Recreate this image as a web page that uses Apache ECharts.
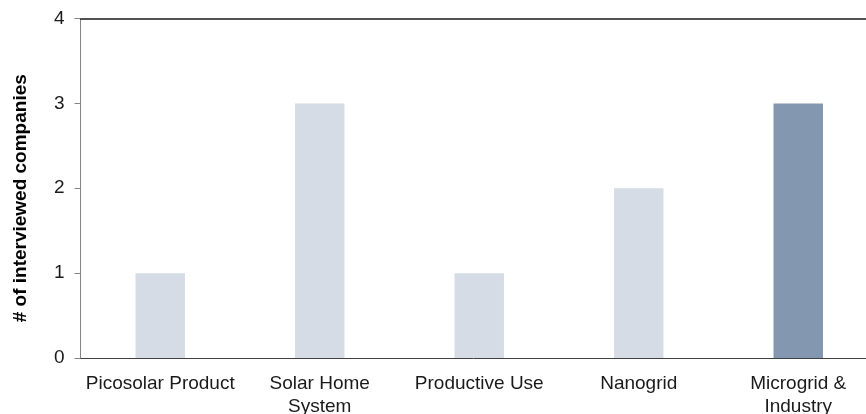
<!DOCTYPE html>
<html>
<head>
<meta charset="utf-8">
<script src="https://cdn.jsdelivr.net/npm/echarts@6/dist/echarts.min.js"></script>
<style>
  html, body { margin: 0; padding: 0; background: #fff; }
  #chart { width: 866px; height: 414px; }
</style>
</head>
<body>
<div id="chart"></div>
<script>
const categories = ['Picosolar Product', 'Solar Home\nSystem', 'Productive Use', 'Nanogrid', 'Microgrid &\nIndustry'];
const companies = [1, 3, 1, 2, 3];
const yTicks = [0, 1, 2, 3, 4];
const highlighted = 'Microgrid &\nIndustry';

const FONT = '"Liberation Sans", Arial, sans-serif';
const chart = echarts.init(document.getElementById('chart'));
chart.setOption({
  animation: false,
  backgroundColor: '#ffffff',
  grid: { left: 80.5, width: 797.5, top: 18.5, height: 339.5, containLabel: false, outerBoundsMode: 'none' },
  xAxis: [{
    type: 'category',
    data: categories,
    axisLine: { show: true, lineStyle: { color: '#404040', width: 1 } },
    axisTick: { show: false },
    axisLabel: { color: '#1a1a1a', fontFamily: FONT, fontSize: 19, lineHeight: 23, margin: 14, interval: 0 }
  }, {
    type: 'category',
    position: 'top',
    data: categories,
    axisLine: { show: true, lineStyle: { color: '#1a1a1a', width: 1.5 } },
    axisTick: { show: false },
    axisLabel: { show: false }
  }],
  yAxis: {
    type: 'value',
    min: yTicks[0],
    max: yTicks[yTicks.length - 1],
    interval: 1,
    name: '# of interviewed companies',
    nameLocation: 'middle',
    nameGap: 50,
    nameTextStyle: { color: '#000', fontFamily: FONT, fontSize: 19, fontWeight: 'bold', padding: [0, 20, 0, 0] },
    axisLine: { show: true, lineStyle: { color: '#868686', width: 1 } },
    axisTick: { show: true, length: 6, lineStyle: { color: '#868686' } },
    splitLine: { show: false },
    axisLabel: { color: '#1a1a1a', fontFamily: FONT, fontSize: 19, margin: 16 }
  },
  series: [{
    type: 'bar',
    data: companies,
    barWidth: '31%',
    itemStyle: {
      color: p => p.name === highlighted ? '#8497B0' : '#D6DCE5'
    }
  }]
});
</script>
</body>
</html>
